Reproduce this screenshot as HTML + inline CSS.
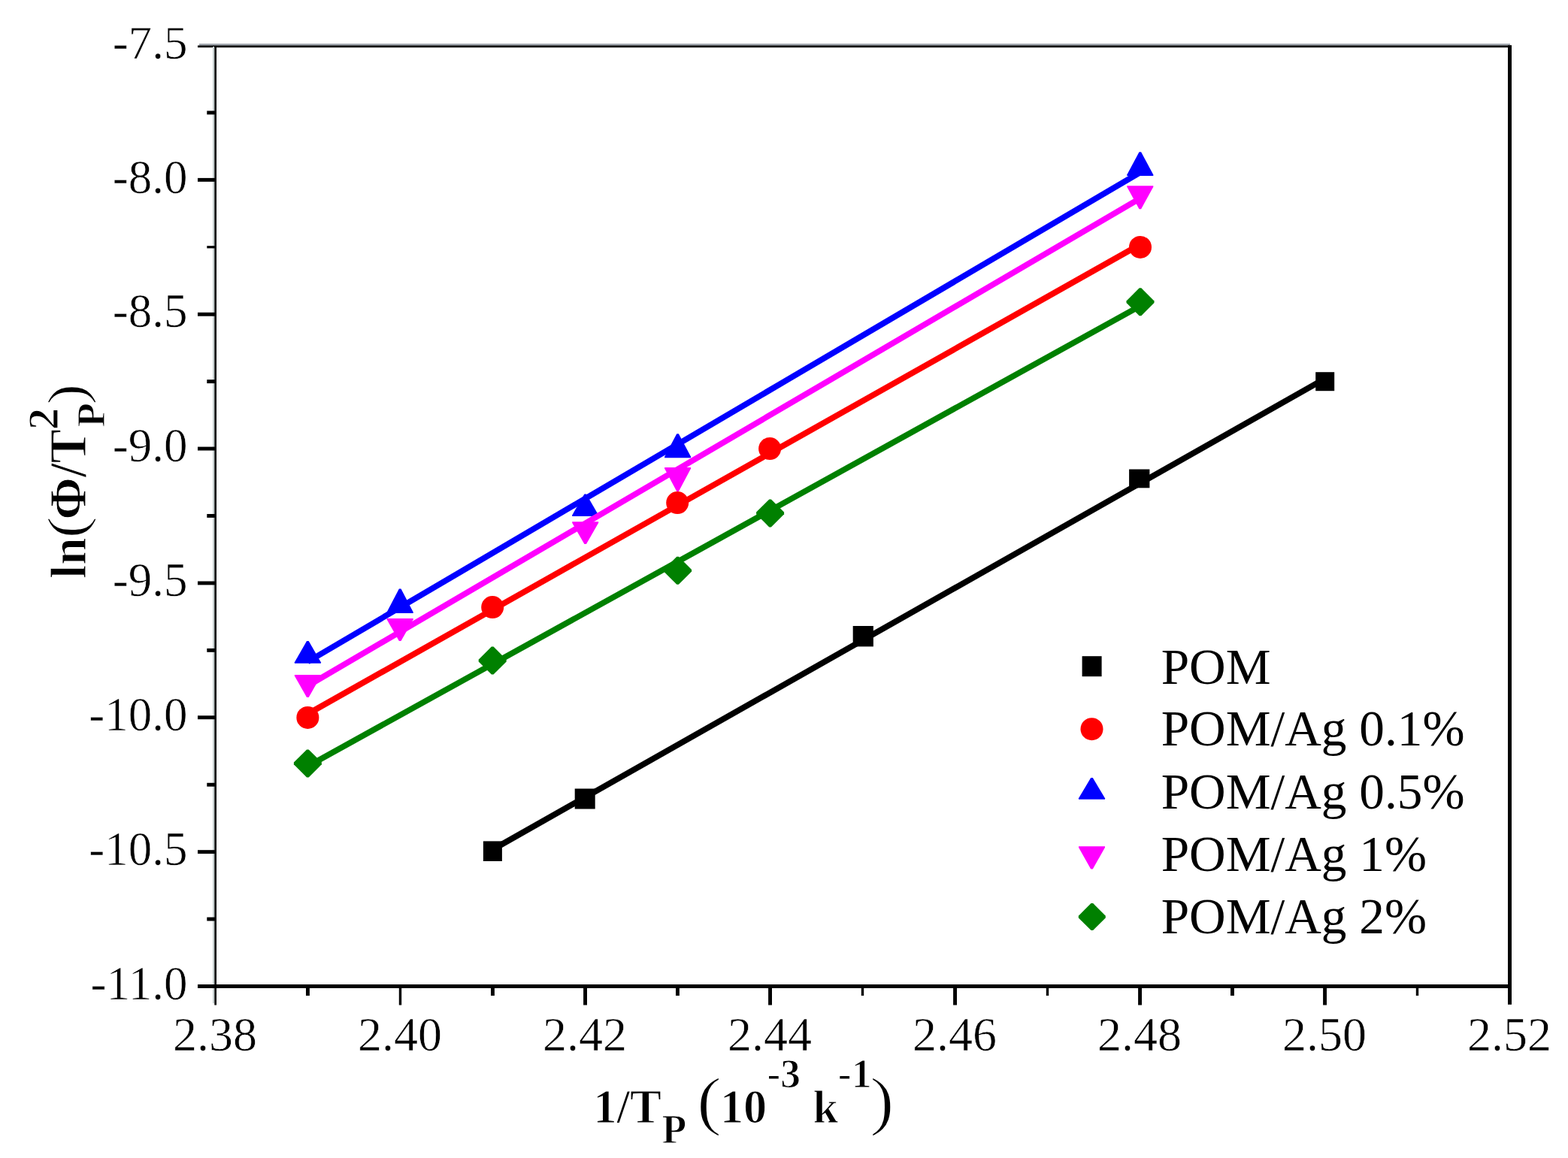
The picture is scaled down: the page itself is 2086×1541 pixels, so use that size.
<!DOCTYPE html>
<html lang="en"><head><meta charset="utf-8"><title>Kissinger plot</title>
<style>
html,body{margin:0;padding:0;background:#fff;}
body{width:2086px;height:1541px;}
svg{display:block;}
text{font-family:"Liberation Serif","DejaVu Serif",serif;fill:#000;}
.tick{font-size:63px;}
.leg{font-size:67.3px;}
.b{font-weight:bold;}
.thin{stroke:#fff;stroke-width:1.6px;}
#xtitle,#ytitle{stroke:#fff;stroke-width:1.2px;}
#xtitle .thin,#ytitle .thin{stroke-width:1.6px;}
.tick text{stroke:#fff;stroke-width:0.6px;}
</style></head><body>
<svg width="2086" height="1541" viewBox="0 0 2086 1541" role="img" aria-label="Kissinger plot of ln(Phi/Tp^2) versus 1/Tp for POM and POM/Ag composites">
<rect x="0" y="0" width="2086" height="1541" fill="#fff"/>
<g id="s-pom">
<line x1="655.5" y1="1130.5" x2="1762.5" y2="504.0" stroke="#000000" stroke-width="7.8"/>
<rect x="642.9" y="1119.4" width="25.0" height="26.6" fill="#000"/>
<rect x="764.7" y="1049.5" width="27.0" height="27.0" fill="#000"/>
<rect x="1134.7" y="833.0" width="27.2" height="27.4" fill="#000"/>
<rect x="1502.1" y="624.5" width="27.3" height="24.8" fill="#000"/>
<rect x="1750.2" y="495.2" width="25.0" height="25.0" fill="#000"/>
</g>
<g id="s-ag01">
<line x1="409.5" y1="950.0" x2="1516.5" y2="325.5" stroke="#ff0000" stroke-width="7.8"/>
<circle cx="409.4" cy="954.9" r="15.0" fill="#ff0000"/>
<circle cx="655.2" cy="808.1" r="15.0" fill="#ff0000"/>
<circle cx="901.2" cy="669.1" r="15.0" fill="#ff0000"/>
<circle cx="1024.1" cy="597.1" r="15.0" fill="#ff0000"/>
<circle cx="1517.0" cy="328.9" r="15.0" fill="#ff0000"/>
</g>
<g id="s-ag05">
<line x1="409.5" y1="880.5" x2="1516.5" y2="229.6" stroke="#0000ff" stroke-width="7.8"/>
<polygon points="408.1,853.0 410.7,853.0 426.9,881.3 426.9,882.8 391.9,882.8 391.9,881.3" fill="#0000ff"/>
<polygon points="530.9,783.5 533.5,783.5 549.7,814.4 549.7,815.9 514.7,815.9 514.7,814.4" fill="#0000ff"/>
<polygon points="777.4,657.5 780.0,657.5 796.2,685.5 796.2,687.0 761.2,687.0 761.2,685.5" fill="#0000ff"/>
<polygon points="900.3,577.3 902.9,577.3 919.1,607.7 919.1,609.2 884.1,609.2 884.1,607.7" fill="#0000ff"/>
<polygon points="1515.5,202.2 1518.1,202.2 1534.3,232.5 1534.3,234.0 1499.3,234.0 1499.3,232.5" fill="#0000ff"/>
</g>
<g id="s-ag1">
<line x1="409.5" y1="912.7" x2="1516.5" y2="264.1" stroke="#ff00ff" stroke-width="7.8"/>
<polygon points="391.9,898.0 426.9,898.0 426.9,899.5 410.7,928.0 408.1,928.0 391.9,899.5" fill="#ff00ff"/>
<polygon points="514.7,823.1 549.7,823.1 549.7,824.6 533.5,852.9 530.9,852.9 514.7,824.6" fill="#ff00ff"/>
<polygon points="761.2,694.3 796.2,694.3 796.2,695.8 780.0,724.0 777.4,724.0 761.2,695.8" fill="#ff00ff"/>
<polygon points="884.1,622.1 919.1,622.1 919.1,623.6 902.9,654.1 900.3,654.1 884.1,623.6" fill="#ff00ff"/>
<polygon points="1499.3,247.2 1534.3,247.2 1534.3,248.7 1518.1,278.3 1515.5,278.3 1499.3,248.7" fill="#ff00ff"/>
</g>
<g id="s-ag2">
<line x1="409.5" y1="1019.6" x2="1516.5" y2="407.3" stroke="#008000" stroke-width="7.8"/>
<polygon points="408.1,997.4 410.7,997.4 427.9,1014.6 427.9,1017.2 410.7,1034.4 408.1,1034.4 390.9,1017.2 390.9,1014.6" fill="#008000"/>
<polygon points="653.9,860.6 656.5,860.6 673.7,877.8 673.7,880.4 656.5,897.6 653.9,897.6 636.7,880.4 636.7,877.8" fill="#008000"/>
<polygon points="900.3,740.8 902.9,740.8 920.1,758.0 920.1,760.6 902.9,777.8 900.3,777.8 883.1,760.6 883.1,758.0" fill="#008000"/>
<polygon points="1023.3,664.4 1025.9,664.4 1043.1,681.6 1043.1,684.2 1025.9,701.4 1023.3,701.4 1006.1,684.2 1006.1,681.6" fill="#008000"/>
<polygon points="1515.7,383.2 1518.3,383.2 1535.5,400.4 1535.5,403.0 1518.3,420.2 1515.7,420.2 1498.5,403.0 1498.5,400.4" fill="#008000"/>
</g>
<g fill="#000">
<rect x="265" y="58" width="1744" height="3" fill="#a3a9b0"/>
<rect x="263" y="60.5" width="1748" height="2.7"/>
<rect x="283" y="62" width="2.4" height="1273" fill="#c9d3d3"/>
<rect x="285.3" y="62" width="2.7" height="1275.5"/>
<rect x="2006" y="60.3" width="5" height="1276.5"/>
<rect x="263" y="1310" width="1748" height="5"/>
<rect x="275.3" y="147.5" width="11" height="4.9"/>
<rect x="263" y="236.9" width="23" height="4.9"/>
<rect x="275.3" y="327.2" width="11" height="3.2"/>
<rect x="263" y="415.8" width="23" height="4.9"/>
<rect x="275.3" y="505.2" width="11" height="4.9"/>
<rect x="263" y="594.6" width="23" height="4.9"/>
<rect x="275.3" y="684.0" width="11" height="4.9"/>
<rect x="263" y="773.5" width="23" height="4.9"/>
<rect x="275.3" y="862.9" width="11" height="4.9"/>
<rect x="263" y="952.3" width="23" height="4.9"/>
<rect x="275.3" y="1041.8" width="11" height="4.9"/>
<rect x="263" y="1131.2" width="23" height="4.9"/>
<rect x="275.3" y="1220.6" width="11" height="4.9"/>
<rect x="407.0" y="1314" width="4.9" height="11"/>
<rect x="530.8" y="1314" width="3.4" height="23.5"/>
<rect x="653.0" y="1314" width="4.9" height="11"/>
<rect x="776.1" y="1314" width="4.9" height="23.5"/>
<rect x="899.0" y="1314" width="4.9" height="11"/>
<rect x="1022.1" y="1314" width="4.9" height="23.5"/>
<rect x="1145.8" y="1314" width="3.4" height="11"/>
<rect x="1268.1" y="1314" width="4.9" height="23.5"/>
<rect x="1391.8" y="1314" width="3.4" height="11"/>
<rect x="1514.1" y="1314" width="4.9" height="23.5"/>
<rect x="1637.0" y="1314" width="4.9" height="11"/>
<rect x="1760.1" y="1314" width="4.9" height="23.5"/>
<rect x="1883.8" y="1314" width="3.4" height="11"/>
</g>
<g class="tick" text-anchor="end">
<text x="249.5" y="77.6">-7.5</text>
<text x="249.5" y="256.5">-8.0</text>
<text x="249.5" y="435.3">-8.5</text>
<text x="249.5" y="614.2">-9.0</text>
<text x="249.5" y="793.0">-9.5</text>
<text x="249.5" y="971.9">-10.0</text>
<text x="249.5" y="1150.7">-10.5</text>
<text x="249.5" y="1329.6">-11.0</text>
</g>
<rect x="140" y="28" width="112" height="9.6" fill="#fff"/>
<g class="tick" text-anchor="middle" style="font-size:64px">
<text x="286.0" y="1398">2.38</text>
<text x="532.0" y="1398">2.40</text>
<text x="778.0" y="1398">2.42</text>
<text x="1024.0" y="1398">2.44</text>
<text x="1270.0" y="1398">2.46</text>
<text x="1516.0" y="1398">2.48</text>
<text x="1762.0" y="1398">2.50</text>
<text x="2008.0" y="1398">2.52</text>
</g>
<g>
<rect x="1439.6" y="873.2" width="26.0" height="27.0" fill="#000"/>
<circle cx="1452.5" cy="970.2" r="15.0" fill="#ff0000"/>
<polygon points="1451.2,1035.0 1453.8,1035.0 1470.0,1062.3 1470.0,1063.8 1435.0,1063.8 1435.0,1062.3" fill="#0000ff"/>
<polygon points="1435.0,1126.2 1470.0,1126.2 1470.0,1127.7 1453.8,1156.4 1451.2,1156.4 1435.0,1127.7" fill="#ff00ff"/>
<polygon points="1451.5,1202.1 1454.1,1202.1 1470.8,1218.8 1470.8,1221.4 1454.1,1238.1 1451.5,1238.1 1434.8,1221.4 1434.8,1218.8" fill="#008000"/>
</g>
<g class="leg">
<text x="1544.7" y="909.6">POM</text>
<text x="1544.7" y="991.6">POM/Ag 0.1%</text>
<text x="1544.7" y="1075.9">POM/Ag 0.5%</text>
<text x="1544.7" y="1158.7">POM/Ag 1%</text>
<text x="1544.7" y="1242.1">POM/Ag 2%</text>
</g>
<text id="xtitle"><tspan x="789.17" y="1493.87" font-size="63.43" font-weight="bold" textLength="90.86" lengthAdjust="spacingAndGlyphs">1/T</tspan><tspan x="880.41" y="1521.00" font-size="54.67" font-weight="bold" textLength="32.77" lengthAdjust="spacingAndGlyphs">P</tspan> <tspan class="thin" x="926.91" y="1493.58" font-size="87.23" font-weight="normal" textLength="32.96" lengthAdjust="spacingAndGlyphs">(</tspan><tspan x="957.91" y="1493.87" font-size="63.12" font-weight="bold" textLength="62.38" lengthAdjust="spacingAndGlyphs">10</tspan><tspan x="1020.44" y="1446.64" font-size="55.69" font-weight="bold" textLength="44.52" lengthAdjust="spacingAndGlyphs">-3</tspan> <tspan x="1081.59" y="1493.90" font-size="61.88" font-weight="bold" textLength="33.58" lengthAdjust="spacingAndGlyphs">k</tspan><tspan x="1114.82" y="1446.70" font-size="55.15" font-weight="bold" textLength="44.94" lengthAdjust="spacingAndGlyphs">-1</tspan><tspan class="thin" x="1157.28" y="1493.58" font-size="87.23" font-weight="normal" textLength="32.18" lengthAdjust="spacingAndGlyphs">)</tspan></text>
<text id="ytitle" transform="translate(113.9,770.0) rotate(-90)"><tspan x="-0.01" y="0.00" font-size="67.50" font-weight="bold" textLength="54.63" lengthAdjust="spacingAndGlyphs">ln</tspan><tspan x="53.84" y="-0.87" font-size="72.73" font-weight="normal" textLength="28.93" lengthAdjust="spacingAndGlyphs">(</tspan><tspan x="78.49" y="-0.40" font-size="70.30" font-weight="bold" textLength="120.36" lengthAdjust="spacingAndGlyphs">Φ/T</tspan><tspan x="201.61" y="25.10" font-size="52.99" font-weight="bold" textLength="32.45" lengthAdjust="spacingAndGlyphs">P</tspan><tspan x="197.84" y="-37.20" font-size="56.38" font-weight="bold" textLength="29.52" lengthAdjust="spacingAndGlyphs">2</tspan><tspan x="231.63" y="-0.87" font-size="72.73" font-weight="normal" textLength="27.64" lengthAdjust="spacingAndGlyphs">)</tspan></text>
</svg>
</body></html>
